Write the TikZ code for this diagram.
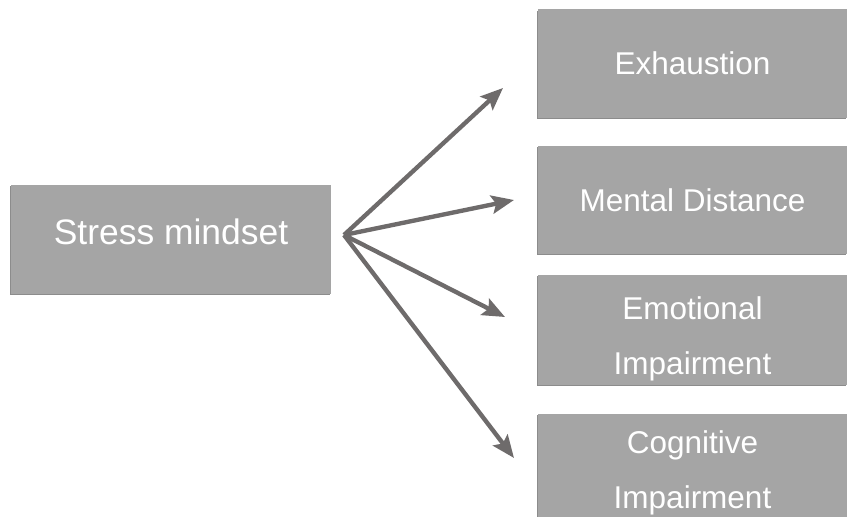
\documentclass[tikz,border=0pt]{standalone}
\usepackage{fontspec}
\setmainfont{Liberation Sans}
\usetikzlibrary{
    arrows.meta,
    shadows
}
\definecolor{boxgray}{HTML}{A5A5A5}
\definecolor{arrowgray}{HTML}{6E6B6B}
\tikzset{
  box/.style={
    fill=boxgray,
    text=white,
    inner sep=0pt,
    align=center,
    drop shadow={shadow xshift=-1pt,shadow yshift=-1pt,fill=black!45,opacity=1}
  },
  outbox/.style={
    box,
    minimum width=7.725cm,
    font=\fontsize{22.4}{39}\selectfont
  },
  link/.style={
    arrowgray,
    line width=3.1pt,
    -{Stealth[length=16pt,width=13pt,inset=3pt]}
  }
}

\begin{document}
\begin{tikzpicture}[x=0.025cm,y=-0.025cm]
    \clip (0,0) rectangle (847,517);
    % 左側
    \node[box,minimum width=8cm,minimum height=2.72cm,
      font=\fontsize{25.2}{30}\selectfont] (stress) at (171,239.5)
      {\raisebox{5.6pt}[18pt][0pt]{Stress mindset}};

    % 右側
    \node[outbox,minimum height=2.7cm] (exh) at (692.5,63.5) {Exhaustion};
    \node[outbox,minimum height=2.7cm] (dist) at (692.5,200) {Mental Distance};
    \node[outbox,minimum height=2.75cm,text height=63pt,text depth=0pt]
      (emo) at (692.5,330) {Emotional\\Impairment};
    \node[outbox,minimum height=2.75cm,text height=56pt,text depth=0pt]
      (cog) at (692.5,469) {Cognitive\\Impairment};

    % 矢印
    \coordinate (hub) at (344,235);
    \coordinate (t1) at (503,88);
    \coordinate (t2) at (514,200);
    \coordinate (t3) at (505,317);
    \coordinate (t4) at (514,458);
    \draw[link] (hub) -- (t1);
    \draw[link] (hub) -- (t2);
    \draw[link] (hub) -- (t3);
    \draw[link] (hub) -- (t4);
\end{tikzpicture}
\end{document}
